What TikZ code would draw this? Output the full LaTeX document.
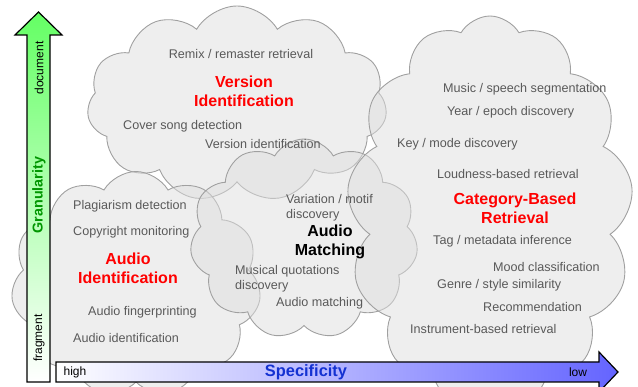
\documentclass[tikz,border=0pt]{standalone}
\usepackage{fontspec}
\setmainfont{Liberation Sans}
\usetikzlibrary{shapes.symbols}
\definecolor{cloudfill}{RGB}{222,222,222}
\definecolor{cloudline}{RGB}{160,160,160}
\definecolor{itemgray}{RGB}{89,89,89}
\definecolor{titlered}{RGB}{255,0,0}
\definecolor{granugreen}{RGB}{0,150,0}
\definecolor{arrowgreen}{RGB}{100,255,100}
\definecolor{arrowblue}{RGB}{100,100,255}
\definecolor{specblue}{RGB}{20,50,210}
\tikzset{
  cloudbox/.style={cloud, cloud puffs=11, cloud puff arc=120, cloud ignores aspect,
    draw=cloudline, line width=0.9pt, fill=cloudfill, fill opacity=0.5, inner sep=0pt},
  item/.style={text=itemgray, font=\fontsize{12.6}{15}\selectfont, inner sep=0pt, anchor=west, align=left},
  title/.style={text=titlered, font=\fontsize{16}{19}\selectfont\bfseries, inner sep=0pt, align=center},
  axislabel/.style={font=\fontsize{12}{14}\selectfont, inner sep=0pt},
  arrowbody/.style={draw=black, line width=1.2pt, line join=miter}
}
\begin{document}
\begin{tikzpicture}[x=1pt,y=-1pt]
\useasboundingbox (0,0) rectangle (638,387);
\clip (0,0) rectangle (638,387);
% clouds
\node[cloudbox, minimum width=300pt, minimum height=196pt] (cver) at (237,104) {};
\node[cloudbox, minimum width=250pt, minimum height=225pt] (caid) at (136,284) {};
\node[cloudbox, minimum width=228pt, minimum height=200pt] (cmat) at (304,239) {};
\node[cloudbox, minimum width=286pt, minimum height=392pt, cloud puffs=13] (ccat) at (490,212) {};
% Version identification
\node[item, anchor=center] (v1) at (241,54) {Remix / remaster retrieval};
\node[title] (vt) at (244,91) {Version\\Identification};
\node[item] (v2) at (123,126) {Cover song detection};
\node[item] (v3) at (205,144) {Version identification};
% Audio identification
\node[item] (a1) at (73,206) {Plagiarism detection};
\node[item] (a2) at (73,232) {Copyright monitoring};
\node[title] (at) at (128,268) {Audio\\Identification};
\node[item] (a3) at (88,312) {Audio fingerprinting};
\node[item] (a4) at (73,338) {Audio identification};
% Audio matching
\node[item] (m1) at (286,208) {Variation / motif\\discovery};
\node[title, text=black] (mt) at (330,242) {Audio\\Matching};
\node[item] (m2) at (235,279) {Musical quotations\\discovery};
\node[item] (m3) at (276,303) {Audio matching};
% Category-based retrieval
\node[item] (c1) at (443,89) {Music / speech segmentation};
\node[item] (c2) at (447,112) {Year / epoch discovery};
\node[item] (c3) at (397,144) {Key / mode discovery};
\node[item] (c4) at (437,174) {Loudness-based retrieval};
\node[title] (ct) at (515,208) {Category-Based\\Retrieval};
\node[item] (c5) at (433,241) {Tag / metadata inference};
\node[item] (c6) at (493,267) {Mood classification};
\node[item] (c7) at (437,285) {Genre / style similarity};
\node[item] (c8) at (483,307) {Recommendation};
\node[item] (c9) at (410,329) {Instrument-based retrieval};
% vertical arrow
\shade[top color=arrowgreen, bottom color=white]
  (27,382) -- (27,35) -- (15,35) -- (38.5,12) -- (62,35) -- (50,35) -- (50,382) -- cycle;
\draw[arrowbody] (27,382) -- (27,35) -- (15,35) -- (38.5,12) -- (62,35) -- (50,35) -- (50,382) -- cycle;
\node[axislabel, rotate=90] (doc) at (39,68) {document};
\node[axislabel, rotate=90, text=granugreen, font=\fontsize{14.3}{16}\selectfont\bfseries] (gran) at (39,195) {Granularity};
\node[axislabel, rotate=90] (frag) at (39,338) {fragment};
% horizontal arrow
\shade[left color=white, right color=arrowblue]
  (56,362) -- (599,362) -- (599,352) -- (618,372) -- (599,392) -- (599,382) -- (56,382) -- cycle;
\draw[arrowbody] (56,362) -- (599,362) -- (599,352) -- (618,372) -- (599,392) -- (599,382) -- (56,382) -- cycle;
\node[axislabel] (hi) at (75,372) {high};
\node[axislabel, text=specblue, font=\fontsize{16.4}{18}\selectfont\bfseries] (spec) at (306,372) {Specificity};
\node[axislabel] (lo) at (578,372) {low};
\end{tikzpicture}
\end{document}
